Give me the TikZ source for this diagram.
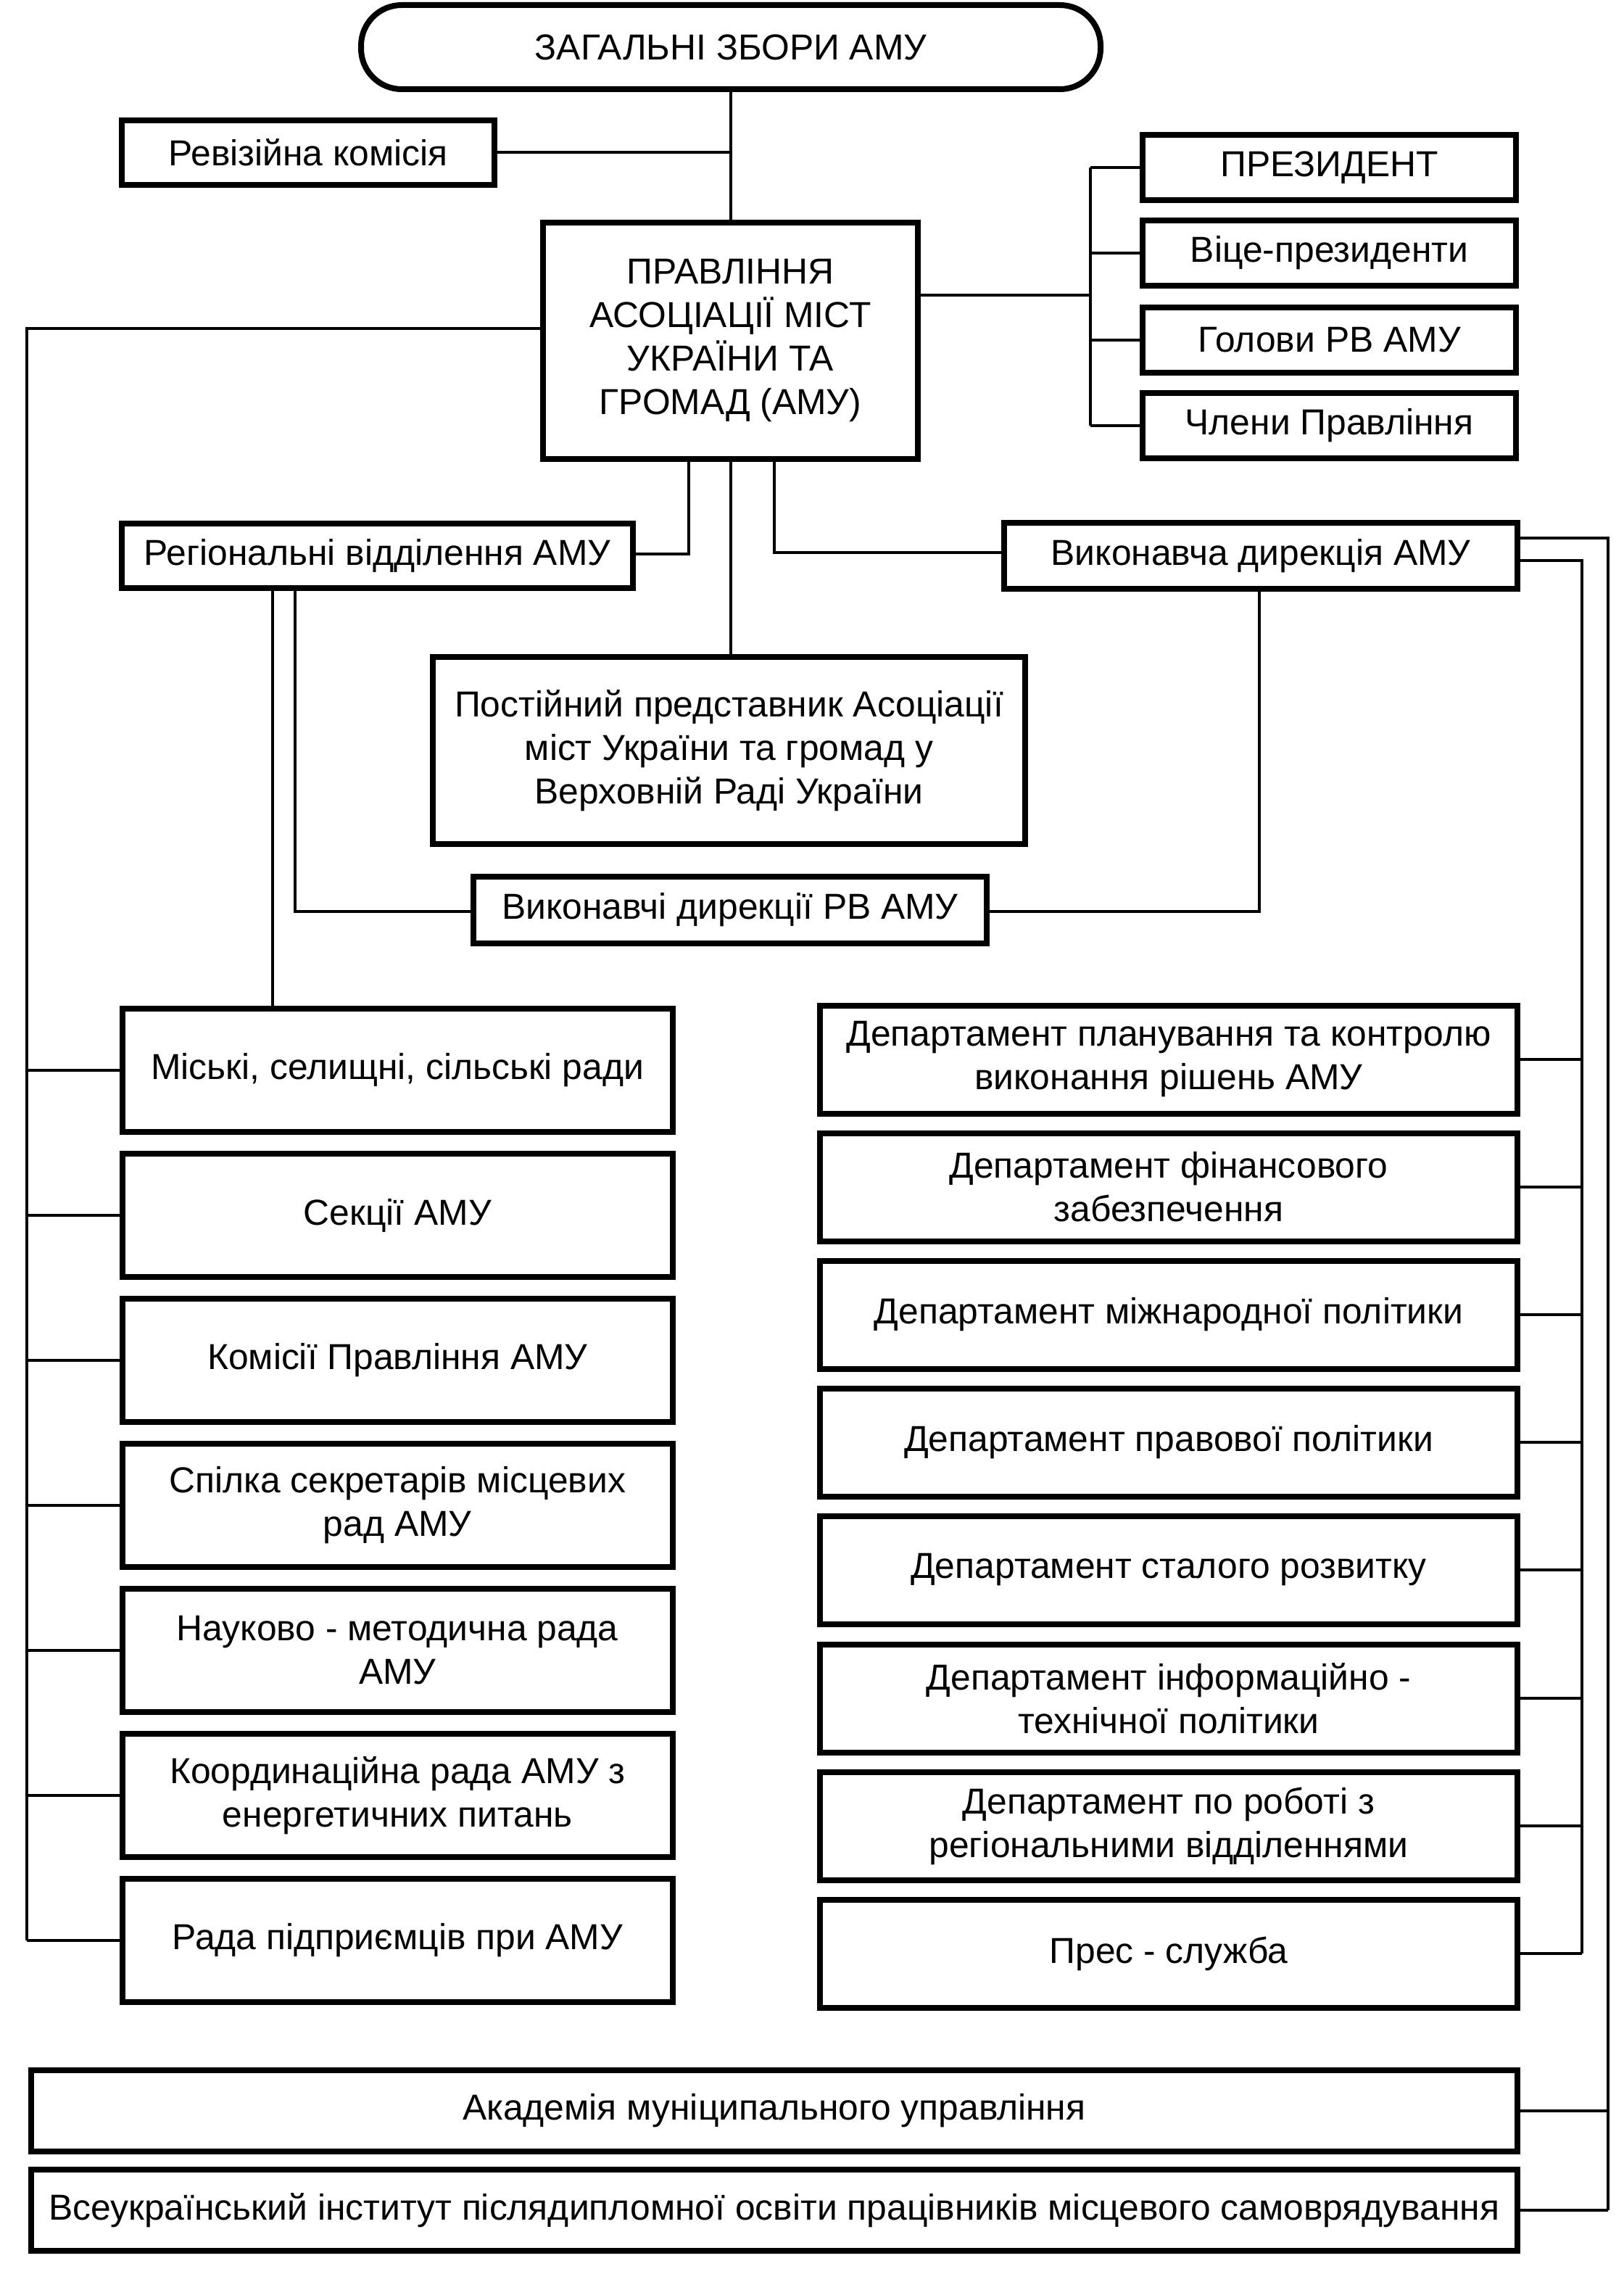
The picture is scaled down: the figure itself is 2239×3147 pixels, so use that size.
\documentclass[tikz,border=0pt]{standalone}
\usepackage{fontspec}
\setmainfont{Liberation Sans}
\begin{document}
\begin{tikzpicture}[x=0.25pt,y=-0.25pt,
  bx/.style={draw, line width=2pt, rectangle, inner sep=0pt, align=center,
    font=\fontsize{12.45pt}{15pt}\selectfont},
  sz/.style 2 args={minimum width=#1*0.25pt, minimum height=#2*0.25pt},
  ln/.style={line width=1pt}]
\useasboundingbox (0,0) rectangle (2239,3147);
\fill[white] (0,0) rectangle (2239,3147);

% top
\node[bx, sz={1020}{116}, rounded corners=14pt] (top) at (1008,65) {ЗАГАЛЬНІ ЗБОРИ АМУ};
\node[bx, sz={514}{89}] (rev) at (425,210.5) {Ревізійна комісія};
\node[bx, sz={517}{326}] (prav) at (1007.5,470) {ПРАВЛІННЯ\\АСОЦІАЦІЇ МІСТ\\УКРАЇНИ ТА\\ГРОМАД (АМУ)};

% right group
\node[bx, sz={515}{90}] (pres) at (1833.5,231) {ПРЕЗИДЕНТ};
\node[bx, sz={515}{90}] (vice) at (1833.5,349) {Віце-президенти};
\node[bx, sz={515}{90}] (hol) at (1833.5,469) {Голови РВ АМУ};
\node[bx, sz={515}{90}] (chl) at (1833.5,587) {Члени Правління};

% middle
\node[bx, sz={705}{89}] (reg) at (520.5,766.5) {Регіональні відділення АМУ};
\node[bx, sz={708}{91}] (vyk) at (1739,766.5) {Виконавча дирекція АМУ};
\node[bx, sz={817}{258}] (post) at (1005.5,1035) {Постійний представник Асоціації\\міст України та громад у\\Верховній Раді України};
\node[bx, sz={708}{92}] (vykrv) at (1007,1255) {Виконавчі дирекції РВ АМУ};

% left column
\node[bx, sz={759.5}{170}] (l1) at (548.25,1476) {Міські, селищні, сільські ради};
\node[bx, sz={759.5}{170}] (l2) at (548.25,1676) {Секції АМУ};
\node[bx, sz={759.5}{170}] (l3) at (548.25,1876) {Комісії Правління АМУ};
\node[bx, sz={759.5}{170}] (l4) at (548.25,2076) {Спілка секретарів місцевих\\рад АМУ};
\node[bx, sz={759.5}{170}] (l5) at (548.25,2276) {Науково - методична рада\\АМУ};
\node[bx, sz={759.5}{170}] (l6) at (548.25,2476) {Координаційна рада АМУ з\\енергетичних питань};
\node[bx, sz={759.5}{170}] (l7) at (548.25,2676) {Рада підприємців при АМУ};

% departments
\node[bx, sz={962}{149}] (d1) at (1612,1461) {Департамент планування та контролю\\виконання рішень АМУ};
\node[bx, sz={962}{149}] (d2) at (1612,1637) {Департамент фінансового\\забезпечення};
\node[bx, sz={962}{149}] (d3) at (1612,1813) {Департамент міжнародної політики};
\node[bx, sz={962}{149}] (d4) at (1612,1989) {Департамент правової політики};
\node[bx, sz={962}{149}] (d5) at (1612,2165) {Департамент сталого розвитку};
\node[bx, sz={962}{149}] (d6) at (1612,2342) {Департамент інформаційно -\\технічної політики};
\node[bx, sz={962}{149}] (d7) at (1612,2518) {Департамент по роботі з\\регіональними відділеннями};
\node[bx, sz={962}{149}] (d8) at (1612,2694) {Прес - служба};

% bottom
\node[bx, sz={2050.5}{112}] (acad) at (1067.75,2911) {Академія муніципального управління};
\node[bx, sz={2050.5}{112}] (vseu) at (1067.75,3048) {Всеукраїнський інститут післядипломної освіти працівників місцевого самоврядування};

% coordinates
\coordinate (brk) at (1504,407);
\coordinate (lft) at (37,453);
\coordinate (p1) at (950,764);
\coordinate (p3) at (1068,762);
\coordinate (r1) at (376,1000);
\coordinate (r2) at (407,1257);
\coordinate (v1) at (1737,1257);
\coordinate (inn) at (2182,773);
\coordinate (out) at (2218,742);

% connectors
\draw[ln] (top.south) -- (top.south |- prav.north);
\draw[ln] (rev.east) -- (rev.east -| top.south);
\draw[ln] (brk -| prav.east) -- (brk);
\draw[ln] (brk |- pres.west) -- (brk |- chl.west);
\foreach \b in {pres,vice,hol,chl} \draw[ln] (\b.west) -- (\b.west -| brk);

\draw[ln] (lft -| prav.west) -- (lft) -- (lft |- l7.west);
\foreach \b in {l1,l2,l3,l4,l5,l6,l7} \draw[ln] (\b.west) -- (\b.west -| lft);

\draw[ln] (p1 |- prav.south) -- (p1) -- (p1 -| reg.east);
\draw[ln] (prav.south) -- (prav.south |- post.north);
\draw[ln] (p3 |- prav.south) -- (p3) -- (p3 -| vyk.west);

\draw[ln] (r1 |- reg.south) -- (r1 |- l1.north);
\draw[ln] (r2 |- reg.south) -- (r2) -- (r2 -| vykrv.west);
\draw[ln] (v1 |- vyk.south) -- (v1) -- (v1 -| vykrv.east);

\draw[ln] (inn -| vyk.east) -- (inn) -- (inn |- d8.east);
\foreach \b in {d1,d2,d3,d4,d5,d6,d7,d8} \draw[ln] (\b.east) -- (\b.east -| inn);

\draw[ln] (out -| vyk.east) -- (out) -- (out |- vseu.east);
\foreach \b in {acad,vseu} \draw[ln] (\b.east) -- (\b.east -| out);
\end{tikzpicture}
\end{document}
